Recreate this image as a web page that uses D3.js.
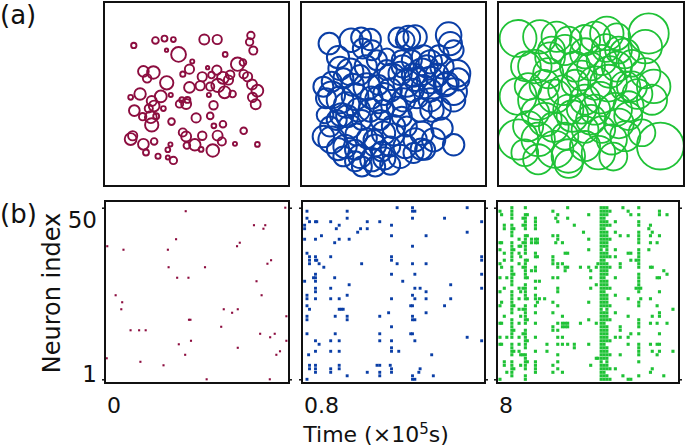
<!DOCTYPE html>
<html lang="en">
<head>
<meta charset="UTF-8">
<title>Neuron activity</title>
<script src="https://d3js.org/d3.v7.min.js"></script>
<style>
  body { margin: 0; background: #fff; }
  svg { display: block; font-family: "DejaVu Sans", sans-serif; }
  .frame { fill: none; stroke: #111; stroke-width: 2px; }
  .lbl { font-size: 22px; fill: #111; }
</style>
</head>
<body>
<svg id="canvas" width="685" height="446"></svg>
<script>
// colours of the three regimes
const panelColors = ["#8c0d3f", "#0a3ea6", "#1fc236"];
// start of each time window (x10^5 s)
const timeTickLabels = ["0", "0.8", "8"];
const neuronTicks = [1, 50];

// (a) receptive fields: [x, y, radius], arena units 0-100
const circlesA = [[16.1,23.6,1.44],[27.8,20.9,1.8],[32.7,19.9,1.6],[37.5,20.4,1.3],[54.2,20.4,2.7],[61.2,20.4,2.5],[79.4,18.2,2.0],[78.7,21.7,2.0],[80.7,26.4,2.2],[33.8,26.2,0.9],[40.3,28.5,4.0],[65.5,28.5,1.3],[47.7,32.3,1.1],[72.2,33.8,3.6],[75.1,32.9,1.8],[46.2,36.5,2.5],[42.6,39.2,1.4],[56.0,35.7,0.9],[61.0,37.0,2.5],[21.3,37.7,2.9],[26.7,38.3,3.4],[23.3,41.5,2.3],[33.9,43.9,3.6],[53.1,40.6,2.5],[58.1,39.7,1.8],[68.2,39.5,2.3],[75.5,39.2,2.3],[77.6,40.6,2.5],[64.3,41.2,3.2],[67.3,42.4,2.5],[52.0,45.5,2.5],[46.2,46.4,2.9],[57.4,46.0,2.2],[61.6,45.3,3.6],[65.2,49.1,3.2],[69.5,50.0,1.8],[80.0,44.8,2.7],[82.9,48.2,3.2],[80.3,51.8,2.5],[82.0,55.6,2.7],[19.5,50.0,3.1],[14.4,51.8,1.3],[30.7,51.3,3.2],[25.8,53.8,2.7],[27.1,56.5,2.9],[24.2,57.9,2.2],[32.1,57.9,1.3],[36.1,50.5,1.1],[40.8,55.4,2.0],[44.4,55.4,2.7],[45.1,53.2,1.6],[42.1,53.2,1.4],[56.7,50.5,1.1],[59.2,56.1,2.3],[57.4,61.9,1.8],[16.4,59.0,2.9],[20.9,62.3,2.0],[25.3,62.6,3.2],[28.2,62.1,1.6],[25.8,66.8,3.6],[49.8,63.0,2.5],[36.5,65.0,1.8],[59.4,67.3,1.3],[64.3,66.4,1.8],[75.5,70.0,1.8],[14.4,74.5,3.2],[15.5,72.7,2.5],[21.3,77.3,2.9],[27.1,75.8,1.8],[22.7,81.8,1.6],[29.2,83.8,1.4],[35.9,77.4,1.1],[34.5,80.3,1.3],[34.5,84.5,1.1],[37.5,86.1,2.0],[42.6,70.9,2.2],[44.4,73.1,2.7],[44.8,78.0,1.8],[49.1,77.6,3.1],[52.5,80.1,1.3],[53.1,72.7,2.3],[61.4,72.6,2.7],[63.7,75.8,2.2],[58.8,80.7,3.4],[70.8,77.1,1.1],[82.9,77.4,1.3]];

const circlesB = [[15.3,22.6,5.8],[27.1,20.8,6.3],[32.5,19.3,5.4],[37.4,20.4,5.8],[33.4,25.3,5.4],[38.3,26.2,5.4],[52.7,19.3,5.4],[58.1,19.3,6.3],[61.7,19.0,6.3],[56.3,20.8,5.1],[79.8,18.0,6.9],[80.7,22.6,6.3],[82.5,26.2,5.4],[21.1,36.1,6.3],[26.5,37.9,7.2],[31.9,39.7,5.4],[22.9,41.5,5.4],[16.6,50.5,7.2],[13.5,52.3,5.4],[21.1,53.2,7.2],[24.7,56.0,6.9],[29.2,51.4,7.2],[31.0,58.7,6.3],[22.0,61.4,6.3],[19.3,64.1,5.4],[26.5,67.7,6.3],[32.9,64.1,5.4],[12.1,73.1,5.8],[16.6,74.9,7.2],[23.8,78.5,6.3],[29.2,80.3,5.4],[31.9,83.9,6.3],[38.3,85.7,6.3],[29.2,86.6,5.4],[39.2,74.9,5.4],[44.6,71.3,6.3],[42.8,64.1,5.4],[41.9,53.2,7.2],[48.2,47.8,6.3],[49.1,40.6,7.2],[46.4,37.0,5.4],[53.6,38.8,6.3],[57.2,44.2,7.2],[60.8,39.7,6.3],[65.3,37.9,7.2],[69.9,42.4,7.2],[73.5,39.7,6.3],[66.2,46.0,6.3],[62.6,51.4,6.3],[76.2,35.2,6.3],[78.9,44.2,6.3],[82.5,48.7,7.2],[82.5,53.2,6.3],[84.3,38.8,7.2],[55.4,53.2,6.3],[51.8,56.9,5.4],[54.5,62.3,5.4],[50.0,67.7,6.3],[57.2,67.7,5.4],[61.7,74.9,6.3],[65.3,71.3,6.3],[56.3,78.5,6.3],[48.2,78.5,5.4],[53.6,83.9,6.3],[60.8,82.1,5.4],[67.1,80.3,5.4],[71.7,74.9,6.3],[76.2,68.6,5.8],[82.5,77.6,5.8],[41.9,45.1,5.4],[41.0,31.6,5.4],[46.4,29.8,4.5],[54.5,31.6,5.4],[59.9,31.6,5.4],[66.2,29.8,6.3],[69.9,32.5,6.3],[74.4,28.9,5.4],[35.6,46.0,7.2],[37.4,58.7,6.3],[44.6,58.7,5.4],[64.4,58.7,6.3],[70.8,58.7,6.3],[69.9,53.2,6.3],[35.6,74.0,5.4],[43.7,81.2,5.4],[48.2,88.4,5.4],[40.1,89.4,5.4],[32.9,89.4,5.4],[22.9,83.9,5.4],[15.7,67.7,5.4],[13.0,61.4,4.5],[12.1,46.0,5.4],[16.6,43.3,5.4],[45,50,6],[60,48,6.3],[70,48,6],[38,52,6],[25,62,6],[30,72,6],[50,72,6],[65,80,5.8],[45,85,6],[20,80,6],[75,58,6],[78,45,6.3],[55,35,6],[62,42,6.3],[68,35,6],[28,45,6],[35,35,6],[20,30,6],[85,42,6],[40,78,6]];

const circlesC = [[10.8,19.8,9.9],[22.5,18.9,9.0],[31.5,18.9,8.1],[37.8,20.7,7.2],[28.8,26.1,7.2],[36.0,26.1,8.1],[52.2,18.9,8.1],[58.5,17.1,9.0],[63.9,18.9,7.2],[81.0,17.1,10.8],[79.2,24.3,9.0],[55.8,31.5,8.1],[63.9,35.1,8.1],[72.0,33.3,7.2],[79.2,38.7,8.1],[83.7,45.9,9.0],[82.8,53.1,8.1],[19.8,35.1,9.0],[27.0,38.7,8.1],[16.2,45.9,7.2],[10.8,51.3,9.9],[21.6,53.1,10.8],[30.6,51.3,9.0],[37.8,58.5,8.1],[25.2,63.9,9.0],[16.2,67.5,8.1],[10.8,74.7,10.8],[21.6,74.7,9.0],[30.6,80.1,9.9],[37.8,83.7,9.0],[46.8,78.3,8.1],[54.0,81.9,9.0],[61.2,74.7,8.1],[68.4,72.9,8.1],[77.4,71.1,7.2],[87.3,78.3,12.6],[52.2,44.1,9.0],[59.4,44.1,9.9],[68.4,45.9,8.1],[46.8,53.1,8.1],[52.2,58.5,8.1],[63.0,58.5,9.0],[70.2,56.7,8.1],[41.4,44.1,7.2],[41.4,35.1,8.1],[46.8,27.9,8.1],[21.6,85.5,8.1],[14.4,81.9,7.2],[36.0,72.9,7.2],[46.8,69.3,7.2],[55.8,69.3,7.2],[72.0,45.9,8.1],[64.8,26.1,7.2],[46.8,20.7,8.1],[45,40,8],[50,35,7.5],[60,38,8.5],[35,48,8],[25,45,8],[40,62,8.5],[30,68,8],[65,66,8],[70,62,7.5],[50,64,8],[20,60,7.5],[75,50,8],[55,52,8.5],[45,58,8],[28,30,8],[68,28,8],[58,25,7.5],[38,88,7.5],[62,84,7.5],[15,35,8]];

// (b) spike rasters, time as fraction of window
const spikesA = [[0.438,49],[0.985,50],[0.007,39],[0.096,38],[0.34,38],[0.385,41],[0.344,33],[0.391,30],[0.453,30],[0.544,33],[0.813,45],[0.865,44],[0.875,45],[0.72,39],[0.735,40],[0.887,34],[0.907,35],[0.827,29],[0.855,25],[0.053,25],[0.089,23],[0.084,21],[0.456,18],[0.464,18],[0.135,15],[0.182,15],[0.218,15],[0.4,11],[0.467,12],[0.435,8],[0.189,6],[0.316,5],[0.553,1],[0.9,1],[0.633,16],[0.647,21],[0.693,20],[0.724,21],[0.724,10],[0.847,14],[0.902,13],[0.927,14],[0.936,8],[0.956,9],[0.991,19],[0.991,12],[0.004,7]];

// [time, neurons firing]
const spikesB = [[0.009,[45,44,41,29]],[0.022,[49,47,37,25,24,22,19,18,14,1]],[0.031,[8]],[0.036,[46,36,35,34,21,5,4]],[0.058,[30]],[0.069,[46,41,36,35,31,30,29,27,26,24,12,9,5,4,3]],[0.076,[46,35]],[0.089,[34,11]],[0.102,[42]],[0.115,[33]],[0.153,[46,36,27,24,12,9,4,3]],[0.175,[40,30]],[0.178,[19,14]],[0.184,[44]],[0.2,[45,41,24,21,12,9,5,4]],[0.211,[21]],[0.222,[21]],[0.244,[49,47,25,19,18,2]],[0.255,[41,28]],[0.302,[43]],[0.318,[44]],[0.324,[34]],[0.355,[46,44,3]],[0.409,[5]],[0.424,[46,19,14,12,5,3,2]],[0.473,[20]],[0.482,[5]],[0.489,[45,42,36,35,31,24,16,12,10,9,4,3]],[0.52,[50,34]],[0.529,[9]],[0.551,[29]],[0.595,[22,14]],[0.605,[50,49,47,39,34,25,22,19,18,14,2,1]],[0.618,[49,31,27,24,18,12,1]],[0.64,[3]],[0.647,[27,4]],[0.68,[42,34,26,24,20]],[0.711,[8]],[0.72,[2]],[0.782,[47,22]],[0.816,[28,24]],[0.907,[50,43,13]],[0.987,[46,36,35,31,27,12]]];

const spikesC = [[0.011,[49,40,38,34,30,26,22,17,13,11,1]],[0.020,[48,40,33,23,17,11]],[0.035,[45,44,37,35,27,19,6,5]],[0.049,[30,13,3]],
[0.077,[2,3,4,5,6,8,9,10,11,13,14,15,16,17,18,20,21,22,23,24,25,26,28,29,30,31,32,33,35,36,37,38,39,40,42,43,44,45,47,48,49,50]],
[0.088,[44,38,31,22,15,9,4]],[0.117,[41,39,37,34,27,24,21,17,13,11,9]],[0.126,[39,36,26,19,8,5]],[0.139,[47,45,40,33,27,21,14,8]],
[0.152,[1,2,4,5,6,7,8,10,11,12,13,14,15,17,18,19,20,21,22,24,25,26,27,28,30,31,32,33,34,35,37,38,39,40,41,42,44,45,46,47,48,50]],
[0.163,[48,42,35,30,24,18,12,6]],[0.186,[41,40,32]],[0.208,[47,46,45,44,41,40,37,36,33,32,29,27,25,24,22,20,17,13,9,6,5,4,3]],[0.219,[41,40,36,23]],[0.230,[29,24]],[0.259,[24]],[0.272,[11,9]],
[0.305,[49,42,36,35,34,30,23,20,16,15,5,3]],[0.321,[47,40]],[0.332,[48,46,42,41,34,33,30,27,26,22,17,15,13,11,8,6,4]],[0.358,[40,34,19,17,16,13,11,3]],[0.373,[37,33,32,17,16]],[0.387,[50,47,37,33,17,16,11]],[0.424,[45,11,10]],[0.458,[33,17]],[0.475,[43]],[0.504,[48,41,38,33,23,18,11]],[0.515,[32,30,27,5]],[0.546,[33,28,17,7]],[0.555,[34,7]],
[0.573,[1,2,3,4,5,6,7,8,9,10,11,12,13,14,15,16,17,18,19,20,21,22,23,24,25,26,27,28,29,30,31,32,33,34,35,36,37,38,39,40,41,42,43,44,45,46,47,48,49,50]],
[0.589,[1,2,3,4,5,7,8,9,10,11,12,13,14,15,16,17,18,19,20,22,23,24,25,26,27,28,29,30,31,32,33,34,35,36,37,39,40,41,42,43,44,45,46,47,48,49,50]],
[0.605,[1,2,4,5,6,7,8,9,10,12,13,14,15,16,18,19,20,21,22,23,24,25,27,28,29,31,32,33,34,36,37,38,39,40,41,42,43,45,46,48,49,50]],
[0.622,[49,45,41,36,33,27,22,18,12,8,4,1]],[0.652,[46,43,38,36,30,25,20,13,4]],[0.679,[42,34,33,16,15,13,8]],[0.694,[50,2]],[0.723,[49,42,37,24,19,13,11,1]],[0.738,[48,37,35,14,1]],[0.767,[35,27]],
[0.782,[50,48,46,45,43,42,41,40,38,37,36,35,34,33,31,30,29,28,27,26,23,22,18,17,16,14,11,10,9,8,6,2]],
[0.793,[27,24]],[0.838,[44,38]],[0.847,[45,42,40,33,24,17,11,3]],[0.857,[43,33,19,9,4]],[0.884,[40,30,22,17,11,8]],[0.897,[49,48,42,30,26,20,19,14,11,9]],[0.921,[32,2]],[0.939,[48,31,17]],[0.972,[21,9]]];

const svg = d3.select("#canvas");

// panel geometry
const topRows = [[104, 289], [301, 486], [498, 684]];
const topY = [2, 186];
const botRows = [[105, 289], [302, 485], [497, 679]];
const botY = [201, 383];

const circleSets = [circlesA, circlesB, circlesC];
const strokeW = [1.9, 2.0, 1.8];

circleSets.forEach(function(set, i){
    let x = d3.scaleLinear().domain([0, 100]).range(topRows[i]);
    let y = d3.scaleLinear().domain([0, 100]).range(topY);
    let r = d3.scaleLinear().domain([0, 100]).range([0, topRows[i][1] - topRows[i][0]]);
    let g = svg.append("g");
    g.selectAll("circle")
        .data(set)
        .enter()
        .append("circle")
        .attr("cx", d => x(d[0]))
        .attr("cy", d => y(d[1]))
        .attr("r", d => r(d[2]))
        .attr("fill", "none")
        .attr("stroke", panelColors[i])
        .attr("stroke-width", strokeW[i]);
    g.append("rect").attr("class", "frame")
        .attr("x", topRows[i][0]).attr("y", topY[0])
        .attr("width", topRows[i][1] - topRows[i][0])
        .attr("height", topY[1] - topY[0]);
});

function flatten(cols){
    return cols.flatMap(c => c[1].map(n => [c[0], n]));
}
const rasters = [spikesA, flatten(spikesB), flatten(spikesC)];
const dotSize = [2.1, 2.9, 3.1];

rasters.forEach(function(pts, i){
    let x = d3.scaleLinear().domain([0, 1]).range([botRows[i][0] + 1, botRows[i][1] - 1]);
    let y = d3.scaleLinear().domain([1, 50]).range([379.3, 207.7]);
    let g = svg.append("g");
    let s = dotSize[i];
    g.selectAll("rect")
        .data(pts)
        .enter()
        .append("rect")
        .attr("x", d => x(d[0]) - s / 2)
        .attr("y", d => y(d[1]) - s / 2)
        .attr("width", s)
        .attr("height", s)
        .attr("fill", panelColors[i]);
    g.append("rect").attr("class", "frame")
        .attr("x", botRows[i][0]).attr("y", botY[0])
        .attr("width", botRows[i][1] - botRows[i][0])
        .attr("height", botY[1] - botY[0]);
    // little ticks on both sides at neuron 1 and 50
    let ticks = [d3.axisLeft(y), d3.axisRight(y)];
    [botRows[i][0], botRows[i][1]].forEach(function(px, k){
        g.append("g")
            .attr("transform", "translate(" + px + ",0)")
            .call(ticks[k].tickValues(neuronTicks).tickSize(3).tickFormat(""))
            .call(a => a.select(".domain").remove())
            .selectAll("line").attr("stroke", "#111").attr("stroke-width", 1.5);
    });
    svg.append("text").attr("class", "lbl")
        .attr("x", botRows[i][0] + 2).attr("y", 413)
        .text(timeTickLabels[i]);
});

// y labels of the raster
let yl = d3.scaleLinear().domain([1, 50]).range([382, 228]);
svg.selectAll(".ytick")
    .data(neuronTicks)
    .enter()
    .append("text")
    .attr("class", "lbl ytick")
    .attr("x", 97)
    .attr("y", d => yl(d))
    .attr("text-anchor", "end")
    .style("font-size", "23px")
    .text(d => d);

svg.append("text").attr("class", "lbl")
    .attr("transform", "translate(60,293) rotate(-90)")
    .attr("text-anchor", "middle")
    .style("font-size", "24px")
    .text("Neuron index");

let xl = svg.append("text").attr("class", "lbl")
    .attr("x", 376).attr("y", 442)
    .attr("text-anchor", "middle");
xl.append("tspan").text("Time (\u00d710");
xl.append("tspan").attr("dy", -8).style("font-size", "15px").text("5");
xl.append("tspan").attr("dy", 8).text("s)");

svg.append("text").attr("class", "lbl").attr("x", 0).attr("y", 24).style("font-size", "26px").text("(a)");
svg.append("text").attr("class", "lbl").attr("x", 0).attr("y", 223).style("font-size", "26px").text("(b)");
</script>
</body>
</html>
